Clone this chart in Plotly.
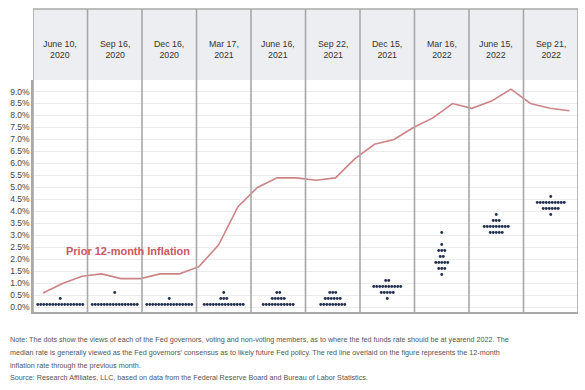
import plotly.graph_objects as go
import pandas as pd

# ---------------- data ----------------
meetings = ["June 10,<br>2020", "Sep 16,<br>2020", "Dec 16,<br>2020", "Mar 17,<br>2021",
            "June 16,<br>2021", "Sep 22,<br>2021", "Dec 15,<br>2021", "Mar 16,<br>2022",
            "June 15,<br>2022", "Sep 21,<br>2022"]

# Fed dot plot: year-end 2022 projections per meeting -> {rate: number of participants}
dots_jun20 = {0.125: 16, 0.375: 1}
dots_sep20 = {0.125: 16, 0.625: 1}
dots_dec20 = {0.125: 16, 0.375: 1}
dots_mar21 = {0.125: 14, 0.375: 3, 0.625: 1}
dots_jun21 = {0.125: 11, 0.375: 5, 0.625: 2}
dots_sep21 = {0.125: 9, 0.375: 6, 0.625: 3}
dots_dec21 = {0.375: 1, 0.625: 5, 0.875: 10, 1.125: 2}
dots_mar22 = {1.375: 1, 1.625: 3, 1.875: 5, 2.125: 2, 2.375: 3, 2.625: 1, 3.125: 1}
dots_jun22 = {3.125: 5, 3.375: 9, 3.625: 3, 3.875: 1}
dots_sep22 = {3.875: 1, 4.125: 6, 4.375: 10, 4.625: 1}
dot_sets = [dots_jun20, dots_sep20, dots_dec20, dots_mar21, dots_jun21,
            dots_sep21, dots_dec21, dots_mar22, dots_jun22, dots_sep22]

# Prior 12-month CPI inflation, monthly Jun 2020 .. Sep 2022
inflation = [0.6, 1.0, 1.3, 1.4, 1.2, 1.2, 1.4, 1.4, 1.7, 2.6, 4.2, 5.0, 5.4, 5.4,
             5.3, 5.4, 6.2, 6.8, 7.0, 7.5, 7.9, 8.5, 8.3, 8.6, 9.1, 8.5, 8.3, 8.2]
months = [d.strftime("%b %Y") for d in pd.date_range("2020-06-01", periods=len(inflation), freq="MS")]

y_ticks = [i * 0.5 for i in range(19)]
y_tick_text = [f"{v:.1f}%" for v in y_ticks]

note_lines = [
    "Note: The dots show the views of each of the Fed governors, voting and non-voting members, as to where the fed funds rate should be at yearend 2022. The",
    "median rate is generally viewed as the Fed governors' consensus as to likely future Fed policy. The red line overlaid on the figure represents the 12-month",
    "inflation rate through the previous month.",
    "Source: Research Affiliates, LLC, based on data from the Federal Reserve Board and Bureau of Labor Statistics.",
]

# ---------------- layout constants ----------------
W, H = 585, 390
L, R, T, B = 33, 7, 80, 78
PW, PH = W - L - R, H - T - B
HEADER_TOP = 9
DOT_STEP = 0.055
LINE_COLOR = "#cd8486"
TEXT_RED = "#c9595c"
GRID = "#a8a8a8"


def py(pix):  # pixel y -> paper y
    return (H - B - pix) / PH


def px(pix):  # pixel x -> paper x
    return (pix - L) / PW


fig = go.Figure()

# dots
dx, dy = [], []
for i, ds in enumerate(dot_sets):
    for rate, n in ds.items():
        for j in range(n):
            dx.append(i + (j - (n - 1) / 2) * DOT_STEP)
            dy.append(rate)
fig.add_trace(go.Scatter(x=dx, y=dy, mode="markers",
                         marker=dict(size=2.9, color="#23304f"),
                         showlegend=False, hoverinfo="skip"))

# inflation line (monthly, on its own overlaid category axis)
fig.add_trace(go.Scatter(x=months, y=inflation, mode="lines", xaxis="x2",
                         line=dict(color=LINE_COLOR, width=1.6),
                         showlegend=False))

shapes = []
# header band
shapes.append(dict(type="rect", xref="paper", yref="paper", x0=0, x1=1,
                   y0=1, y1=py(HEADER_TOP), fillcolor="#eceef2", line=dict(width=0), layer="below"))
shapes.append(dict(type="line", xref="paper", yref="paper", x0=0, x1=1,
                   y0=py(HEADER_TOP), y1=py(HEADER_TOP), line=dict(color=GRID, width=1.5)))
# vertical panel separators
for k in range(len(meetings) + 1):
    shapes.append(dict(type="line", xref="x", yref="paper", x0=k - 0.5, x1=k - 0.5,
                       y0=0, y1=py(HEADER_TOP), line=dict(color=GRID, width=1.6)))

annotations = []
for i, m in enumerate(meetings):
    annotations.append(dict(x=i, y=py(49), xref="x", yref="paper", text=m, showarrow=False,
                            font=dict(family="Liberation Sans, Arial", size=8.8, color="#333333"),
                            xanchor="center", yanchor="middle"))
annotations.append(dict(x=1.24, y=2.35, xref="x", yref="y", text="<b>Prior 12-month Inflation</b>",
                        showarrow=False, font=dict(family="Liberation Sans, Arial", size=11, color=TEXT_RED),
                        xanchor="center", yanchor="middle"))
note_y = [339, 352, 365, 377]
for t, yy in zip(note_lines, note_y):
    annotations.append(dict(x=px(8), y=py(yy), xref="paper", yref="paper", text=t, showarrow=False,
                            font=dict(family="Liberation Sans Narrow, Arial Narrow, Liberation Sans", size=7.2, color="#555555"),
                            xanchor="left", yanchor="middle"))

fig.update_layout(
    width=W, height=H,
    margin=dict(l=L, r=R, t=T, b=B),
    paper_bgcolor="white", plot_bgcolor="white",
    shapes=shapes, annotations=annotations,
    xaxis=dict(range=[-0.5, len(meetings) - 0.5], showticklabels=False, showgrid=False,
               zeroline=False, showline=True, linecolor=GRID, linewidth=1.5, ticks=""),
    xaxis2=dict(overlaying="x", type="category", range=[-0.513, 27.44], visible=False,
                showgrid=False),
    yaxis=dict(range=[-0.19, 9.48], tickvals=y_ticks, ticktext=y_tick_text,
               showgrid=True, gridcolor="#ececec", gridwidth=1, zeroline=False,
               showline=True, linecolor=GRID, linewidth=1.5, ticks="",
               tickfont=dict(family="Liberation Sans, Arial", size=8.5, color="#444444")),
    font=dict(family="Liberation Sans, Arial"),
)

fig.write_html("out.html", config={"displayModeBar": False},
               post_script="document.body.style.margin='0';document.body.style.overflow='hidden';")
